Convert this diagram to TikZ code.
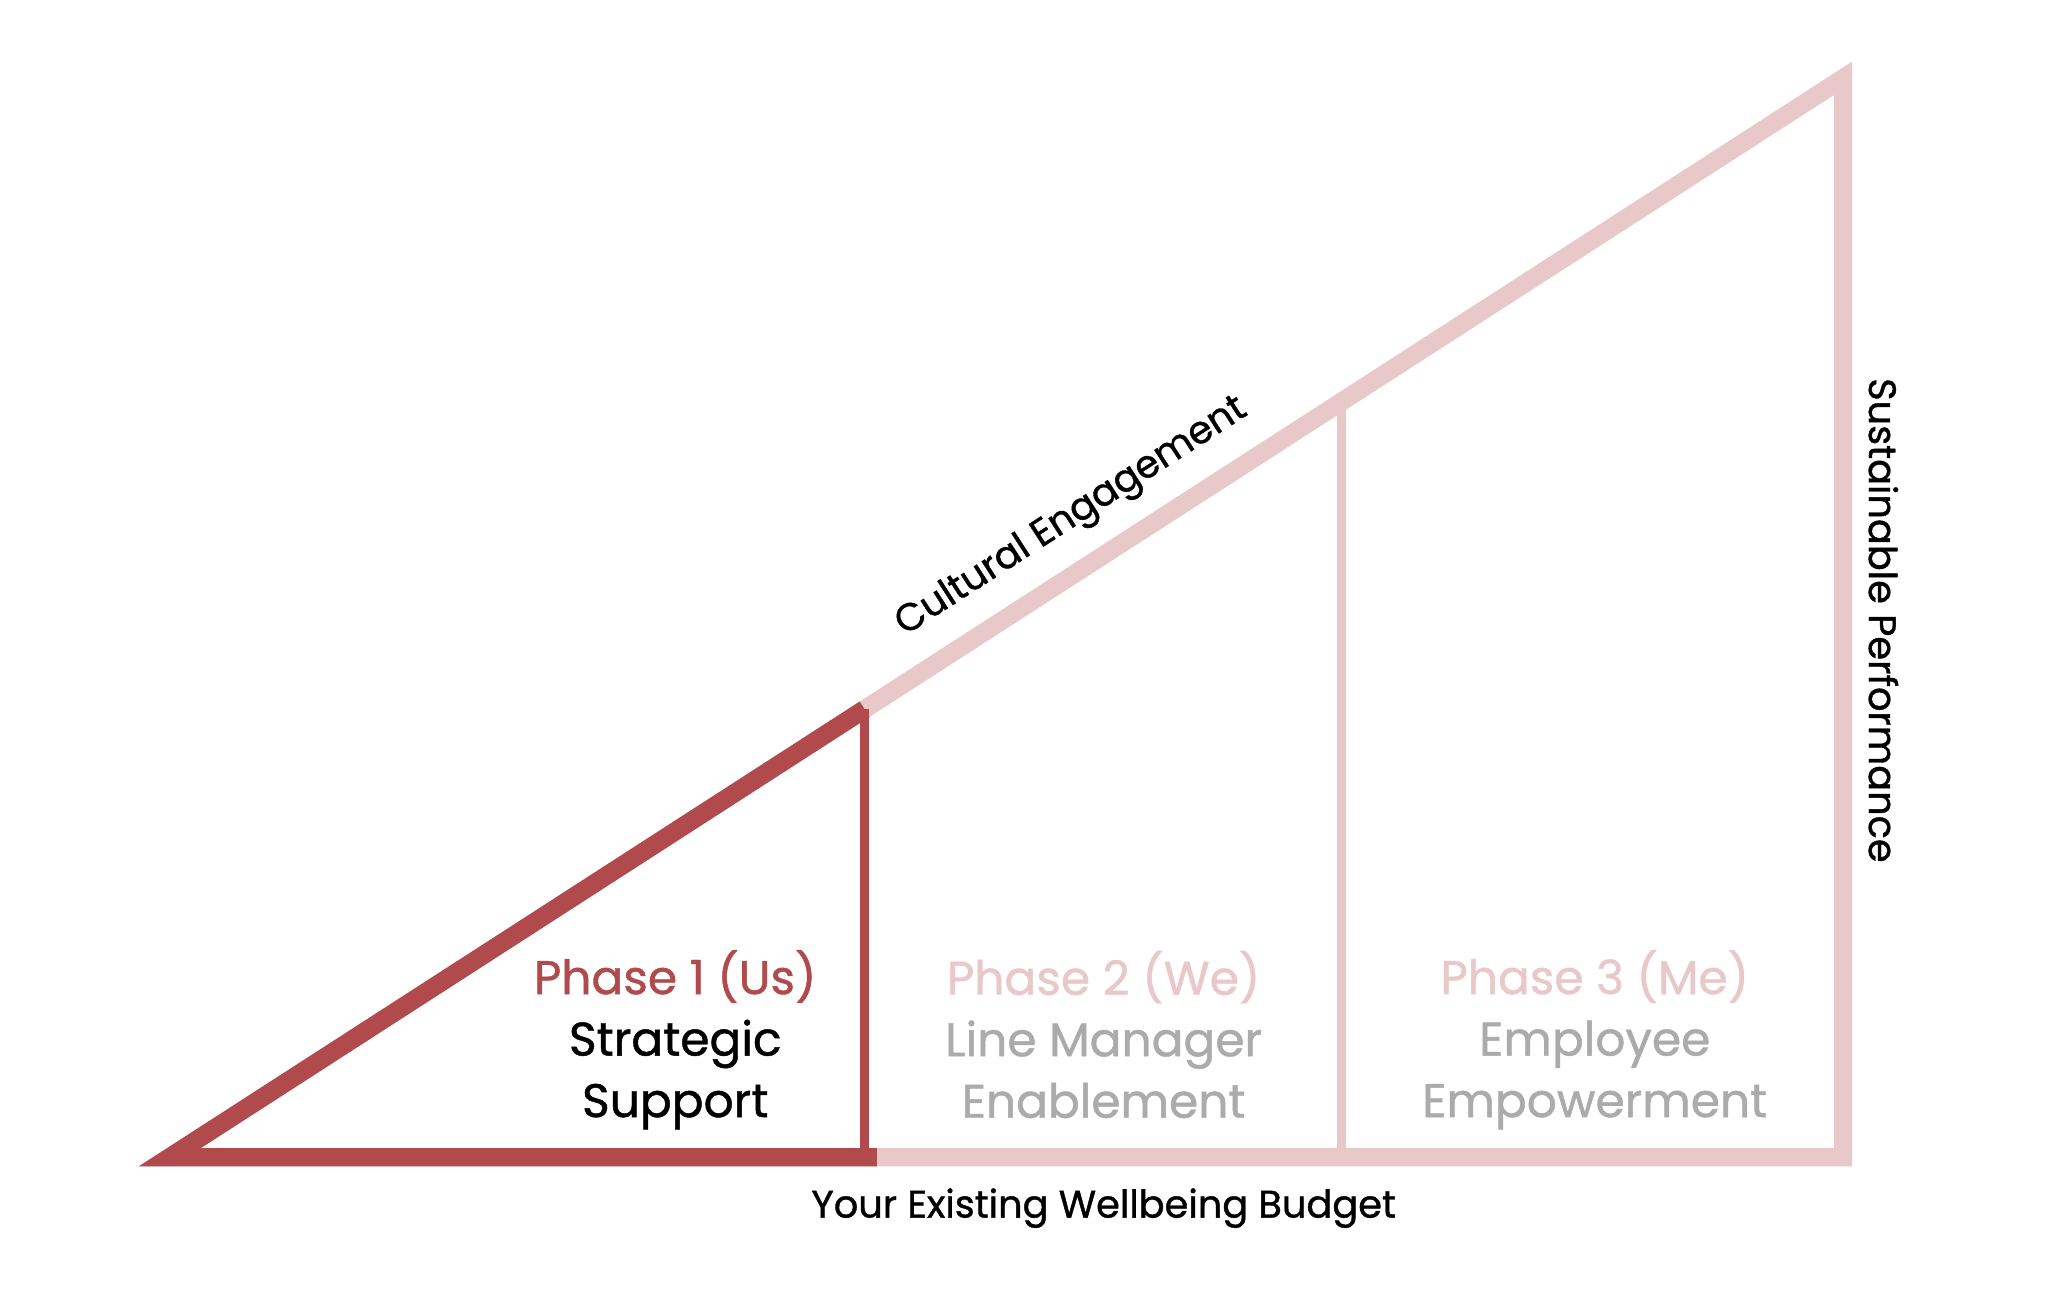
\documentclass[tikz,border=0pt]{standalone}
\usepackage{fontspec}
\setmainfont{Poppins}[FakeBold=1]
\usetikzlibrary{calc}
\definecolor{usred}{HTML}{B04A4C}
\definecolor{wepink}{HTML}{E8C8C8}
\definecolor{megrey}{HTML}{ABABAB}
\tikzset{
  heavy/.style={line width=5.2pt, line join=miter},
  light/.style={line width=2.6pt},
  phasetext/.style={align=center, font=\fontsize{13.4}{17.5}\selectfont},
  axistext/.style={font=\fontsize{10.9}{12}\selectfont}
}

\begin{document}
\begin{tikzpicture}[x=0.01306cm,y=-0.01306cm]
\useasboundingbox (0,0) rectangle (1568,993);
\coordinate (tip) at (130,886);
\coordinate (base) at (1411,886);
\coordinate (apex) at (1411,60);
\coordinate (usTop) at ($(tip)!{(662-130)/1281}!(apex)$);
\coordinate (usFoot) at ($(tip)!{(662-130)/1281}!(base)$);
\coordinate (weTop) at ($(tip)!{(1027-130)/1281}!(apex)$);
\coordinate (weFoot) at ($(tip)!{(1027-130)/1281}!(base)$);

\draw[heavy, wepink] (tip) -- (base) -- (apex) -- cycle;
\draw[light, wepink] (weFoot) -- (weTop);
\draw[heavy, usred] (usTop) -- (tip) -- ([xshift=3.5]usFoot);
\draw[light, usred] (usFoot) -- (usTop);

\path (tip) -- (apex) node[pos=0.555, above=0.17cm, sloped, axistext] (culture) {Cultural Engagement};
\node[axistext, rotate=-90] (performance) at (1442,475) {Sustainable Performance};
\node[axistext] (budget) at (845,925) {Your Existing Wellbeing Budget};

\node[phasetext] (us) at (517,796) {\textcolor{usred}{Phase 1 (Us)}\\Strategic\\Support};
\node[phasetext, megrey] (we) at (845,792) {\textcolor{wepink}{Phase 2 (We)}\\Line Manager\\Enablement};
\node[phasetext, megrey] (me) at (1221,796) {\textcolor{wepink}{Phase 3 (Me)}\\Employee\\Empowerment};
\end{tikzpicture}
\end{document}
